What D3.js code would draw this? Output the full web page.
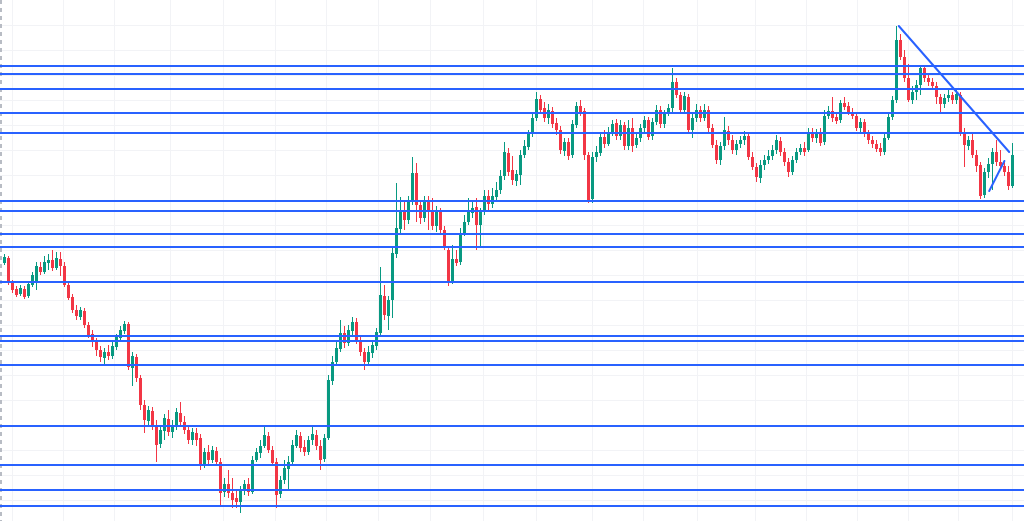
<!DOCTYPE html>
<html><head><meta charset="utf-8">
<script src="https://cdn.jsdelivr.net/npm/d3@7/dist/d3.min.js"></script>
<style>html,body{margin:0;padding:0;background:#fff;overflow:hidden}svg{display:block}</style>
</head><body>
<svg id="chart" width="1024" height="521"></svg>
<script>
const opens = [
1.0937,1.0942,1.0917,1.0911,1.0906,1.0911,1.0904,1.0915,1.0918,1.0933,
1.0928,1.0937,1.0940,1.0932,1.0941,1.0934,1.0915,1.0903,1.0890,1.0883,
1.0889,1.0875,1.0866,1.0858,1.0850,1.0842,1.0848,1.0844,1.0853,1.0862,
1.0869,1.0876,1.0832,1.0843,1.0822,1.0795,1.0779,1.0789,1.0775,1.0756,
1.0769,1.0781,1.0768,1.0774,1.0787,1.0778,1.0770,1.0760,1.0767,1.0762,
1.0736,1.0748,1.0740,1.0749,1.0738,1.0708,1.0716,1.0707,1.0702,1.0698,
1.0709,1.0716,1.0708,1.0740,1.0747,1.0754,1.0764,1.0750,1.0738,1.0706,
1.0720,1.0731,1.0738,1.0754,1.0764,1.0753,1.0748,1.0760,1.0765,1.0754,
1.0741,1.0762,1.0819,1.0838,1.0851,1.0867,1.0857,1.0869,1.0878,1.0860,
1.0848,1.0838,1.0847,1.0854,1.0867,1.0904,1.0884,1.0900,1.0946,1.0971,
1.0988,1.0980,1.0999,1.1027,1.0995,1.0982,1.1000,1.0988,1.0974,1.0988,
1.0970,1.0950,1.0918,1.0941,1.0938,1.0967,1.0978,1.0987,1.0993,1.0975,
1.0988,1.1004,1.0996,1.1003,1.1010,1.1024,1.1047,1.1030,1.1019,1.1025,
1.1045,1.1053,1.1066,1.1082,1.1101,1.1092,1.1082,1.1089,1.1077,1.1070,
1.1049,1.1058,1.1045,1.1075,1.1094,1.1089,1.1045,1.1001,1.1043,1.1047,
1.1063,1.1056,1.1067,1.1077,1.1064,1.1075,1.1054,1.1072,1.1055,1.1062,
1.1072,1.1080,1.1064,1.1078,1.1090,1.1076,1.1086,1.1092,1.1118,1.1105,
1.1090,1.1103,1.1070,1.1082,1.1090,1.1082,1.1090,1.1072,1.1055,1.1040,
1.1054,1.1069,1.1060,1.1050,1.1056,1.1060,1.1064,1.1043,1.1033,1.1022,
1.1035,1.1040,1.1044,1.1050,1.1059,1.1048,1.1038,1.1028,1.1040,1.1048,
1.1052,1.1050,1.1068,1.1062,1.1067,1.1058,1.1084,1.1089,1.1083,1.1080,
1.1097,1.1094,1.1088,1.1084,1.1072,1.1078,1.1066,1.1060,1.1056,1.1052,
1.1048,1.1062,1.1083,1.1100,1.1160,1.1143,1.1122,1.1100,1.1108,1.1115,
1.1132,1.1122,1.1118,1.1114,1.1103,1.1096,1.1102,1.1105,1.1100,1.1105,
1.1068,1.1054,1.1060,1.1045,1.1035,1.1005,1.1028,1.1036,1.1048,1.1038,
1.1034,1.1028,1.1014];
const highs = [
1.0946,1.0944,1.0920,1.0914,1.0915,1.0914,1.0919,1.0928,1.0938,1.0938,
1.0944,1.0946,1.0950,1.0948,1.0948,1.0938,1.0918,1.0906,1.0895,1.0893,
1.0892,1.0878,1.0870,1.0862,1.0854,1.0852,1.0855,1.0858,1.0866,1.0874,
1.0879,1.0878,1.0848,1.0846,1.0825,1.0800,1.0794,1.0793,1.0780,1.0775,
1.0786,1.0790,1.0780,1.0792,1.0798,1.0784,1.0775,1.0772,1.0772,1.0766,
1.0752,1.0755,1.0754,1.0753,1.0742,1.0722,1.0730,1.0722,1.0710,1.0714,
1.0720,1.0722,1.0744,1.0752,1.0760,1.0773,1.0768,1.0754,1.0742,1.0724,
1.0740,1.0744,1.0760,1.0770,1.0768,1.0760,1.0764,1.0773,1.0770,1.0760,
1.0766,1.0825,1.0844,1.0860,1.0880,1.0874,1.0875,1.0883,1.0882,1.0864,
1.0852,1.0854,1.0860,1.0872,1.0933,1.0915,1.0904,1.0952,1.1017,1.1003,
1.1000,1.1004,1.1043,1.1037,1.1000,1.1004,1.1004,1.1002,1.0994,1.0992,
1.0974,1.0953,1.0955,1.0950,1.0972,1.0985,1.1002,1.1000,1.1002,1.0992,
1.1010,1.1010,1.1012,1.1018,1.1030,1.1058,1.1052,1.1044,1.1030,1.1050,
1.1060,1.1070,1.1088,1.1108,1.1105,1.1098,1.1096,1.1093,1.1082,1.1074,
1.1062,1.1062,1.1080,1.1098,1.1100,1.1092,1.1048,1.1048,1.1054,1.1068,
1.1070,1.1073,1.1080,1.1081,1.1080,1.1078,1.1080,1.1082,1.1068,1.1076,
1.1084,1.1083,1.1082,1.1095,1.1094,1.1090,1.1096,1.1132,1.1122,1.1108,
1.1108,1.1106,1.1086,1.1096,1.1094,1.1096,1.1094,1.1076,1.1060,1.1058,
1.1083,1.1074,1.1065,1.1060,1.1064,1.1069,1.1068,1.1048,1.1037,1.1040,
1.1045,1.1050,1.1055,1.1065,1.1063,1.1052,1.1042,1.1044,1.1052,1.1056,
1.1058,1.1072,1.1072,1.1071,1.1072,1.1090,1.1094,1.1103,1.1088,1.1100,
1.1103,1.1098,1.1092,1.1088,1.1082,1.1081,1.1070,1.1064,1.1060,1.1057,
1.1066,1.1087,1.1104,1.1174,1.1166,1.1150,1.1136,1.1114,1.1120,1.1135,
1.1134,1.1126,1.1122,1.1118,1.1106,1.1106,1.1110,1.1108,1.1110,1.1108,
1.1072,1.1064,1.1067,1.1050,1.1038,1.1032,1.1042,1.1052,1.1060,1.1050,
1.1040,1.1034,1.1057];
const lows = [
1.0935,1.0915,1.0907,1.0903,1.0904,1.0901,1.0902,1.0913,1.0910,1.0925,
1.0926,1.0930,1.0929,1.0930,1.0924,1.0913,1.0900,1.0887,1.0880,1.0880,
1.0872,1.0862,1.0853,1.0844,1.0838,1.0835,1.0840,1.0841,1.0850,1.0858,
1.0866,1.0830,1.0814,1.0818,1.0790,1.0767,1.0775,1.0770,1.0738,1.0752,
1.0760,1.0764,1.0762,1.0770,1.0774,1.0766,1.0756,1.0755,1.0754,1.0730,
1.0732,1.0735,1.0737,1.0734,1.0695,1.0703,1.0702,1.0692,1.0692,1.0687,
1.0705,1.0704,1.0706,1.0738,1.0742,1.0752,1.0747,1.0734,1.0692,1.0702,
1.0716,1.0710,1.0734,1.0752,1.0748,1.0744,1.0745,1.0755,1.0750,1.0730,
1.0738,1.0760,1.0815,1.0835,1.0848,1.0852,1.0854,1.0865,1.0856,1.0844,
1.0830,1.0834,1.0842,1.0850,1.0864,1.0880,1.0870,1.0882,1.0942,1.0965,
1.0970,1.0976,1.0995,1.0978,1.0976,1.0978,1.0970,1.0970,1.0968,1.0966,
1.0950,1.0914,1.0916,1.0934,1.0935,1.0964,1.0975,1.0982,1.0950,1.0952,
1.0985,1.0990,1.0992,1.1000,1.1006,1.1020,1.1024,1.1015,1.1014,1.1015,
1.1042,1.1050,1.1063,1.1079,1.1086,1.1078,1.1076,1.1072,1.1065,1.1046,
1.1044,1.1040,1.1042,1.1072,1.1084,1.1040,1.0997,1.0997,1.1038,1.1044,
1.1052,1.1054,1.1064,1.1060,1.1060,1.1050,1.1050,1.1048,1.1052,1.1058,
1.1068,1.1060,1.1060,1.1075,1.1072,1.1072,1.1084,1.1088,1.1102,1.1087,
1.1086,1.1066,1.1062,1.1078,1.1078,1.1079,1.1068,1.1052,1.1036,1.1035,
1.1050,1.1055,1.1046,1.1045,1.1052,1.1055,1.1040,1.1030,1.1018,1.1017,
1.1030,1.1036,1.1040,1.1046,1.1044,1.1034,1.1023,1.1025,1.1037,1.1045,
1.1044,1.1048,1.1058,1.1057,1.1054,1.1055,1.1081,1.1078,1.1076,1.1077,
1.1090,1.1085,1.1081,1.1069,1.1066,1.1063,1.1056,1.1052,1.1048,1.1044,
1.1045,1.1060,1.1080,1.1097,1.1140,1.1118,1.1098,1.1096,1.1100,1.1105,
1.1118,1.1114,1.1110,1.1096,1.1087,1.1092,1.1098,1.1096,1.1096,1.1064,
1.1033,1.1050,1.1042,1.1028,1.1001,1.1002,1.1022,1.1010,1.1034,1.1030,
1.1024,1.1010,1.1012];
const closes = [
1.0943,1.0917,1.0910,1.0905,1.0912,1.0903,1.0916,1.0925,1.0934,1.0928,
1.0938,1.0940,1.0932,1.0942,1.0934,1.0915,1.0902,1.0890,1.0884,1.0890,
1.0875,1.0865,1.0858,1.0850,1.0843,1.0848,1.0844,1.0854,1.0863,1.0870,
1.0876,1.0833,1.0844,1.0822,1.0795,1.0780,1.0790,1.0775,1.0755,1.0770,
1.0782,1.0768,1.0775,1.0788,1.0778,1.0770,1.0760,1.0768,1.0760,1.0735,
1.0748,1.0740,1.0750,1.0738,1.0707,1.0716,1.0707,1.0700,1.0698,1.0710,
1.0716,1.0708,1.0740,1.0748,1.0754,1.0765,1.0750,1.0737,1.0705,1.0720,
1.0732,1.0738,1.0755,1.0765,1.0752,1.0748,1.0760,1.0766,1.0754,1.0740,
1.0762,1.0820,1.0838,1.0852,1.0867,1.0857,1.0870,1.0878,1.0860,1.0848,
1.0838,1.0848,1.0855,1.0868,1.0905,1.0885,1.0900,1.0947,1.0972,1.0988,
1.0980,1.1000,1.1027,1.0995,1.0982,1.1000,1.0988,1.0974,1.0988,1.0970,
1.0953,1.0918,1.0941,1.0937,1.0967,1.0978,1.0988,1.0992,1.0975,1.0988,
1.1004,1.0996,1.1004,1.1010,1.1024,1.1048,1.1028,1.1020,1.1026,1.1045,
1.1054,1.1066,1.1082,1.1101,1.1090,1.1082,1.1090,1.1076,1.1070,1.1050,
1.1058,1.1044,1.1076,1.1094,1.1088,1.1045,1.1000,1.1043,1.1048,1.1063,
1.1056,1.1068,1.1076,1.1064,1.1075,1.1054,1.1072,1.1054,1.1062,1.1072,
1.1080,1.1063,1.1078,1.1090,1.1076,1.1086,1.1092,1.1118,1.1105,1.1090,
1.1104,1.1070,1.1082,1.1090,1.1082,1.1090,1.1072,1.1055,1.1040,1.1054,
1.1070,1.1060,1.1050,1.1056,1.1060,1.1064,1.1043,1.1033,1.1023,1.1035,
1.1040,1.1044,1.1050,1.1060,1.1048,1.1038,1.1028,1.1040,1.1048,1.1052,
1.1048,1.1068,1.1062,1.1067,1.1057,1.1084,1.1089,1.1082,1.1079,1.1097,
1.1093,1.1088,1.1084,1.1072,1.1078,1.1066,1.1060,1.1056,1.1051,1.1048,
1.1062,1.1083,1.1100,1.1160,1.1143,1.1122,1.1100,1.1108,1.1115,1.1132,
1.1122,1.1118,1.1114,1.1103,1.1096,1.1102,1.1105,1.1100,1.1106,1.1068,
1.1055,1.1060,1.1045,1.1034,1.1004,1.1028,1.1036,1.1048,1.1038,1.1034,
1.1028,1.1014,1.1045];

// horizontal support / resistance levels
const levels = [1.1134,1.1126,1.1111,1.1087,1.1067,1.0999,1.0989,1.0966,1.0953,1.0918,
                1.0864,1.0859,1.0835,1.0774,1.0735,1.0710,1.0694];
// trend lines: [barIndex, price] pairs
const trendLines = [
  [[223.7,1.1174],[251.3,1.1048]],
  [[246.3,1.1009],[250.1,1.1039]]
];
// time grid positions (bar index) and price grid step
const timeGrid = [2,14.75,27.5,41.5,54.75,67.75,80.5,93.5,106.5,119.75,133,147,159.75,173.25,187.75,200.5,213.25,226,238.5,252];
const priceGrid = d3.range(1.0700, 1.1190, 0.0025);

const W = 1024, H = 521;
const bars = closes.map((c,i)=>({i, o:opens[i], h:highs[i], l:lows[i], c}));
const x = d3.scaleLinear().domain([0, bars.length-1]).range([4, 1012]);
const y = d3.scaleLinear().domain([1.0679, 1.1200]).range([H, 0]);

const svg = d3.select('#chart');
svg.append('rect').attr('width',W).attr('height',H).attr('fill','#ffffff');

// grid
const g = svg.append('g');
g.selectAll('line.h').data(priceGrid).join('line')
  .attr('x1',0).attr('x2',W)
  .attr('y1',d=>Math.round(y(d))+0.5).attr('y2',d=>Math.round(y(d))+0.5)
  .attr('stroke','#f2f3f6').attr('stroke-width',1);
g.selectAll('line.v').data(timeGrid).join('line')
  .attr('y1',0).attr('y2',H)
  .attr('x1',d=>Math.round(x(d))+0.5).attr('x2',d=>Math.round(x(d))+0.5)
  .attr('stroke','#f2f3f6').attr('stroke-width',1);

// left dashed border
svg.append('line').attr('x1',1).attr('x2',1).attr('y1',0).attr('y2',H)
  .attr('stroke','#b8bcc4').attr('stroke-width',2).attr('stroke-dasharray','4,4');

const up = '#089981', dn = '#f23645';
const cg = svg.append('g');
cg.selectAll('line.wick').data(bars).join('line')
  .attr('x1',d=>Math.round(x(d.i))+0.5).attr('x2',d=>Math.round(x(d.i))+0.5)
  .attr('y1',d=>y(d.h)).attr('y2',d=>y(d.l))
  .attr('stroke',d=>d.c>=d.o?up:dn).attr('stroke-width',1);
cg.selectAll('rect.body').data(bars).join('rect')
  .attr('x',d=>Math.round(x(d.i))-1)
  .attr('width',3)
  .attr('y',d=>y(Math.max(d.o,d.c)))
  .attr('height',d=>Math.max(1, Math.abs(y(d.o)-y(d.c))))
  .attr('fill',d=>d.c>=d.o?up:dn);

// levels
svg.append('g').selectAll('line').data(levels).join('line')
  .attr('x1',0).attr('x2',W)
  .attr('y1',d=>y(d)).attr('y2',d=>y(d))
  .attr('stroke','#2962ff').attr('stroke-width',2);

// trend lines
svg.append('g').selectAll('line').data(trendLines).join('line')
  .attr('x1',d=>x(d[0][0])).attr('y1',d=>y(d[0][1]))
  .attr('x2',d=>x(d[1][0])).attr('y2',d=>y(d[1][1]))
  .attr('stroke','#2962ff').attr('stroke-width',2).attr('stroke-linecap','round');
</script>
</body></html>
